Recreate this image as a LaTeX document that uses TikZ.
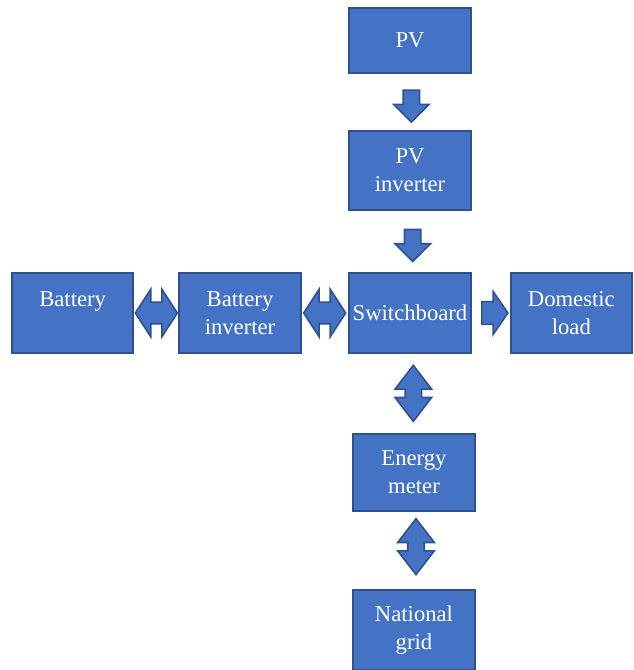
\documentclass[tikz,border=0pt]{standalone}
\usepackage{fontspec}
\setmainfont{Liberation Serif}
\usetikzlibrary{shapes.arrows, positioning, calc}
\definecolor{boxblue}{HTML}{4472C4}
\definecolor{edgeblue}{HTML}{2F528F}

\begin{document}
\begin{tikzpicture}[
  box/.style={rectangle, draw=edgeblue, line width=1.5pt, fill=boxblue, text=white, minimum height=60pt, minimum width=91pt, inner sep=0pt, align=center, font=\fontsize{17}{21}\selectfont},
  blockarrow/.style={draw=edgeblue, line width=1.2pt, fill=boxblue, inner xsep=0.5pt},
  dnflow/.style={blockarrow, single arrow, rotate=-90, minimum height=24pt, minimum width=25.5pt, inner ysep=5.6pt, single arrow head extend=7.1pt, single arrow tip angle=90},
  rtflow/.style={blockarrow, single arrow, minimum height=19.5pt, minimum width=31pt, inner ysep=7.9pt, single arrow head extend=7.6pt, single arrow tip angle=111},
  hlink/.style={blockarrow, double arrow, minimum height=31.5pt, minimum width=34.5pt, inner ysep=7.5pt, double arrow head extend=9.75pt, double arrow tip angle=114},
  vlink/.style={blockarrow, double arrow, rotate=90, minimum height=42pt, minimum width=26.25pt, inner ysep=5.6pt, double arrow head extend=7.5pt, double arrow tip angle=75}
]
  \useasboundingbox (-307.5pt,-267.75pt) rectangle (168pt,234.75pt);

  \node[box, minimum width=92pt] (sw) at (0,0) {Switchboard};
  \node[box, above=46pt of sw, minimum height=59pt] (pvinv) {PV\\inverter};
  \node[box, above=42pt of pvinv, minimum height=49pt] (pv) {PV};
  \node[box, left=34.5pt of sw] (binv) {Battery\\inverter};
  \node[box, left=33pt of binv] (bat) {Battery\\\mbox{}};
  \node[box, right=28pt of sw] (load) {Domestic\\load};
  \node[box, below=59pt of sw, xshift=3pt, minimum height=58pt] (meter) {Energy\\meter};
  \node[box, below=58pt of meter] (grid) {National\\grid};

  % block arrows between the boxes
  \node[dnflow] (pv2inv) at ($(pv.south)!0.5!(pvinv.north)+(1pt,0)$) {};
  \node[dnflow] (inv2sw) at ($(pvinv.south)!0.5!(sw.north)+(2pt,0)$) {};
  \node[hlink] (bat2binv) at ($(bat.east)!0.5!(binv.west)$) {};
  \node[hlink] (binv2sw) at ($(binv.east)!0.5!(sw.west)$) {};
  \node[rtflow] (sw2load) at ($(sw.east)!0.5!(load.west)$) {};
  \node[vlink] (sw2meter) at ($(sw.south)!0.5!(meter.north)+(1pt,0)$) {};
  \node[vlink] (meter2grid) at ($(meter.south)!0.5!(grid.north)+(1.5pt,3pt)$) {};
\end{tikzpicture}
\end{document}
